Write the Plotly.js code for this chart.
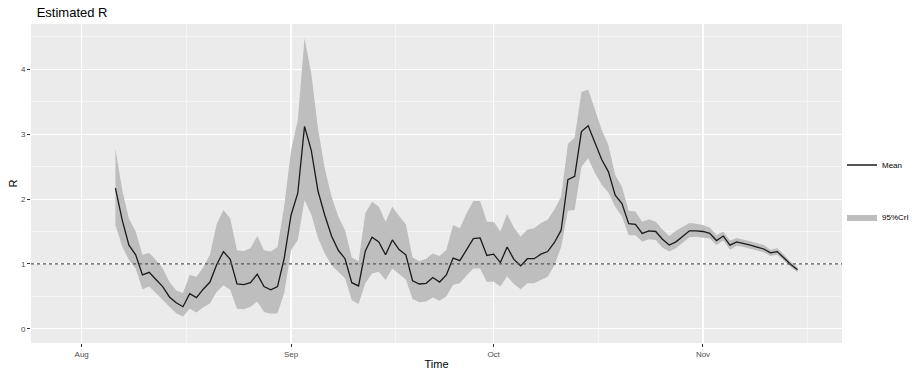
<!DOCTYPE html>
<html>
<head>
<meta charset="utf-8">
<script src="https://cdn.plot.ly/plotly-3.0.1.min.js"></script>
<style>
  html, body { margin: 0; padding: 0; background: #ffffff; }
  #chart { width: 917px; height: 370px; }
</style>
</head>
<body>
<div id="chart"></div>
<script>
// Daily estimates, 2020-08-06 .. 2020-11-15
var startDate = "2020-08-06";

var meanR = [
  2.17, 1.68, 1.29, 1.14, 0.83, 0.87, 0.76, 0.65, 0.49, 0.40,
  0.34, 0.54, 0.48, 0.61, 0.72, 0.99, 1.19, 1.07, 0.69, 0.68,
  0.71, 0.84, 0.65, 0.60, 0.65, 1.09, 1.75, 2.09, 3.12, 2.75,
  2.12, 1.75, 1.43, 1.21, 1.08, 0.71, 0.66, 1.20, 1.41, 1.34,
  1.14, 1.37, 1.22, 1.14, 0.74, 0.69, 0.70, 0.79, 0.72, 0.83,
  1.09, 1.05, 1.22, 1.39, 1.40, 1.13, 1.15, 1.02, 1.26, 1.07,
  0.97, 1.08, 1.08, 1.15, 1.19, 1.33, 1.52, 2.30, 2.35, 3.04,
  3.13, 2.87, 2.61, 2.42, 2.06, 1.93, 1.62, 1.61, 1.47, 1.51,
  1.50, 1.38, 1.29, 1.34, 1.42, 1.51, 1.51, 1.50, 1.47, 1.36,
  1.43, 1.29, 1.34, 1.32, 1.29, 1.26, 1.23, 1.17, 1.19, 1.09,
  0.99, 0.91
];

var lowerR = [
  1.60, 1.27, 1.06, 0.93, 0.61, 0.65, 0.55, 0.44, 0.34, 0.24,
  0.19, 0.31, 0.25, 0.33, 0.39, 0.57, 0.67, 0.60, 0.31, 0.30,
  0.34, 0.42, 0.26, 0.23, 0.24, 0.55, 1.21, 1.37, 1.98, 1.76,
  1.40, 1.16, 0.98, 0.88, 0.78, 0.44, 0.38, 0.70, 0.85, 0.88,
  0.75, 0.93, 0.84, 0.76, 0.46, 0.41, 0.42, 0.48, 0.43, 0.50,
  0.68, 0.70, 0.82, 0.93, 0.93, 0.72, 0.73, 0.65, 0.81, 0.69,
  0.61, 0.70, 0.70, 0.75, 0.80, 0.98, 1.26, 1.82, 1.83, 2.50,
  2.63, 2.40, 2.22, 2.10, 1.88, 1.73, 1.44, 1.44, 1.34, 1.38,
  1.37, 1.25, 1.19, 1.24, 1.33, 1.41, 1.42, 1.41, 1.39, 1.29,
  1.36, 1.22, 1.28, 1.26, 1.23, 1.21, 1.18, 1.12, 1.14, 1.05,
  0.95, 0.87
];

var upperR = [
  2.78, 2.14, 1.70, 1.50, 1.14, 1.17, 1.06, 0.93, 0.72, 0.59,
  0.55, 0.83, 0.80, 0.95, 1.14, 1.62, 1.83, 1.70, 1.21, 1.20,
  1.24, 1.43, 1.21, 1.19, 1.26, 1.90, 2.75, 3.22, 4.48, 3.94,
  3.08, 2.47, 2.04, 1.73, 1.52, 1.10, 1.04, 1.78, 1.96, 1.88,
  1.65, 1.88, 1.74, 1.61, 1.10, 1.04, 1.08, 1.16, 1.12, 1.22,
  1.60, 1.55, 1.78, 1.97, 1.97, 1.65, 1.65, 1.50, 1.77, 1.56,
  1.42, 1.53, 1.55, 1.63, 1.68, 1.84, 2.04, 2.85, 2.95, 3.65,
  3.69, 3.37, 3.07, 2.83, 2.37, 2.19, 1.82, 1.81, 1.65, 1.69,
  1.65, 1.53, 1.43, 1.51, 1.57, 1.63, 1.62, 1.60, 1.56, 1.44,
  1.50, 1.36, 1.40, 1.38, 1.35, 1.32, 1.29, 1.22, 1.24, 1.14,
  1.03, 0.95
];

var monthTickVals = ["2020-08-01", "2020-09-01", "2020-10-01", "2020-11-01"];
var monthTickText = ["Aug", "Sep", "Oct", "Nov"];
var yTickVals = [0, 1, 2, 3, 4];
var threshold = 1;

// consecutive daily dates for the series
function buildDates(start, n) {
  var out = [];
  var d = new Date(start + "T00:00:00Z");
  for (var i = 0; i < n; i++) {
    var c = new Date(d.getTime() + i * 86400000);
    out.push(c.toISOString().slice(0, 10));
  }
  return out;
}
var dates = buildDates(startDate, meanR.length);

var FONT = "Liberation Sans, Arial, Helvetica, sans-serif";

var traces = [
  {
    x: dates, y: lowerR, type: "scatter", mode: "lines",
    line: { width: 0, color: "rgba(0,0,0,0)" },
    showlegend: false, hoverinfo: "skip"
  },
  {
    x: dates, y: upperR, type: "scatter", mode: "lines",
    fill: "tonexty", fillcolor: "#BEBEBE",
    line: { width: 0, color: "#BEBEBE" },
    name: "95%CrI", legend: "legend2"
  },
  {
    x: dates, y: meanR, type: "scatter", mode: "lines",
    line: { color: "#1a1a1a", width: 1.3 },
    name: "Mean", legend: "legend"
  }
];

var layout = {
  width: 917, height: 370,
  margin: { l: 31, r: 75, t: 24, b: 27, autoexpand: false },
  paper_bgcolor: "#ffffff",
  plot_bgcolor: "#EBEBEB",
  font: { family: FONT, color: "#4D4D4D", size: 8 },
  title: {
    text: "Estimated R",
    font: { family: FONT, size: 13, color: "#000000" },
    x: 0.007, xanchor: "left", xref: "paper",
    y: 0.967, yanchor: "middle", yref: "container"
  },
  xaxis: {
    type: "date",
    range: ["2020-07-24 12:00", "2020-11-21 14:00"],
    tickvals: monthTickVals, ticktext: monthTickText,
    ticks: "outside", ticklen: 3, tickcolor: "#333333", tickwidth: 1,
    tickfont: { family: FONT, size: 8, color: "#4D4D4D" },
    showgrid: true, gridcolor: "#ffffff", gridwidth: 1.1,
    minor: { tick0: "2020-08-16 12:00", dtick: "M1", showgrid: true, gridcolor: "#ffffff", gridwidth: 0.5, ticks: "" },
    zeroline: false, showline: false, automargin: false,
    title: { text: "Time", font: { family: FONT, size: 11, color: "#000000" }, standoff: 2 }
  },
  yaxis: {
    range: [-0.22, 4.70],
    tickvals: yTickVals,
    ticks: "outside", ticklen: 3, tickcolor: "#333333", tickwidth: 1,
    tickfont: { family: FONT, size: 8, color: "#4D4D4D" },
    showgrid: true, gridcolor: "#ffffff", gridwidth: 1.1,
    minor: { tick0: 0.5, dtick: 1, showgrid: true, gridcolor: "#ffffff", gridwidth: 0.5, ticks: "" },
    zeroline: false, showline: false, automargin: false,
    title: { text: "R", font: { family: FONT, size: 11, color: "#000000" }, standoff: 1 }
  },
  shapes: [
    {
      type: "line", xref: "paper", x0: 0, x1: 1, yref: "y", y0: threshold, y1: threshold,
      line: { color: "#555555", width: 1.1, dash: "dot" }, layer: "above"
    }
  ],
  legend: {
    x: 1.0, xanchor: "left", y: 0.558, yanchor: "middle",
    bgcolor: "rgba(0,0,0,0)", itemwidth: 30,
    font: { family: FONT, size: 8, color: "#000000" }
  },
  legend2: {
    x: 1.0, xanchor: "left", y: 0.395, yanchor: "middle",
    bgcolor: "rgba(0,0,0,0)", itemwidth: 30,
    font: { family: FONT, size: 8, color: "#000000" }
  },
  hovermode: false
};

Plotly.newPlot("chart", traces, layout, { displayModeBar: false, staticPlot: true });
</script>
</body>
</html>
